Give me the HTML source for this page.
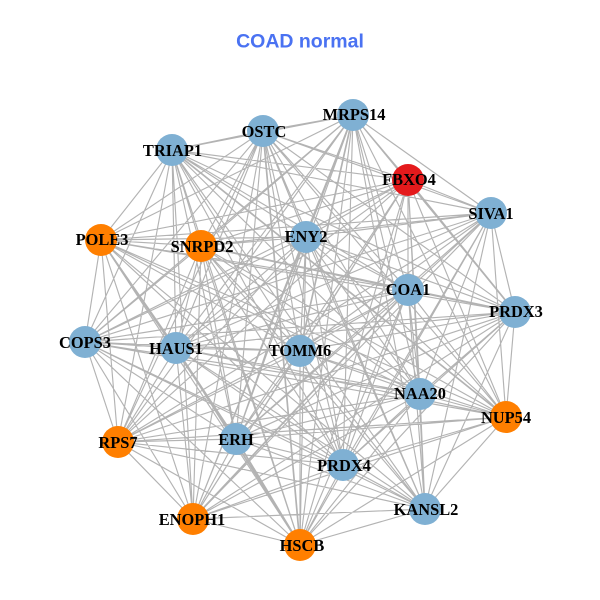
<!DOCTYPE html>
<html><head><meta charset="utf-8"><style>
html,body{margin:0;padding:0;background:#fff}
svg{display:block}
text{font-family:"Liberation Serif",serif;font-weight:bold;font-size:16.4px;text-anchor:middle;fill:#000}
</style></head><body>
<svg width="600" height="600" viewBox="0 0 600 600" xmlns="http://www.w3.org/2000/svg">
<rect width="600" height="600" fill="#fff"/>
<text x="300" y="47.5" style="font-family:'Liberation Sans',sans-serif;font-size:19.5px;fill:#4a72f2">COAD normal</text>
<path fill="none" stroke="#b3b3b3" stroke-width="1.15" d="
M353 115L263 131M353 115L172 150M353 115L408 180M353 115L491 213M353 115L101 240M353 115L201 246M353 115L408 290M353 115L515 312M353 115L85 342M353 115L176 348M353 115L420 394M353 115L506 417M353 115L118 442M353 115L236 439M353 115L343 465M353 115L425 509M353 115L193 519M353 115L300 545
M263 131L172 150M263 131L408 180M263 131L491 213M263 131L101 240M263 131L201 246M263 131L306 237M263 131L408 290M263 131L515 312M263 131L85 342M263 131L176 348M263 131L300 351M263 131L420 394M263 131L506 417M263 131L118 442M263 131L236 439M263 131L343 465M263 131L425 509M263 131L193 519
M172 150L408 180M172 150L491 213M172 150L101 240M172 150L201 246M172 150L306 237M172 150L408 290M172 150L515 312M172 150L85 342M172 150L176 348M172 150L300 351M172 150L420 394M172 150L118 442M172 150L236 439M172 150L343 465M172 150L425 509M172 150L193 519M172 150L300 545
M408 180L491 213M408 180L101 240M408 180L201 246M408 180L306 237M408 180L408 290M408 180L85 342M408 180L176 348M408 180L300 351M408 180L420 394M408 180L506 417M408 180L118 442M408 180L236 439M408 180L343 465M408 180L425 509M408 180L193 519M408 180L300 545
M491 213L101 240M491 213L201 246M491 213L306 237M491 213L408 290M491 213L515 312M491 213L85 342M491 213L176 348M491 213L300 351M491 213L420 394M491 213L506 417M491 213L118 442M491 213L236 439M491 213L343 465M491 213L425 509M491 213L193 519M491 213L300 545
M101 240L201 246M101 240L306 237M101 240L408 290M101 240L515 312M101 240L85 342M101 240L176 348M101 240L300 351M101 240L420 394M101 240L506 417M101 240L118 442M101 240L343 465M101 240L425 509M101 240L193 519M101 240L300 545
M201 246L306 237M201 246L85 342M201 246L176 348M201 246L300 351M201 246L420 394M201 246L506 417M201 246L118 442M201 246L236 439M201 246L343 465M201 246L425 509M201 246L193 519M201 246L300 545
M306 237L408 290M306 237L515 312M306 237L85 342M306 237L176 348M306 237L300 351M306 237L420 394M306 237L506 417M306 237L118 442M306 237L236 439M306 237L343 465M306 237L425 509M306 237L193 519M306 237L300 545
M408 290L85 342M408 290L176 348M408 290L300 351M408 290L420 394M408 290L506 417M408 290L118 442M408 290L236 439M408 290L343 465M408 290L425 509M408 290L300 545
M515 312L85 342M515 312L176 348M515 312L300 351M515 312L420 394M515 312L506 417M515 312L118 442M515 312L236 439M515 312L343 465M515 312L425 509M515 312L193 519M515 312L300 545
M85 342L176 348M85 342L300 351M85 342L420 394M85 342L506 417M85 342L118 442M85 342L236 439M85 342L343 465M85 342L425 509M85 342L193 519M85 342L300 545
M176 348L300 351M176 348L420 394M176 348L506 417M176 348L118 442M176 348L236 439M176 348L343 465M176 348L425 509M176 348L193 519
M300 351L420 394M300 351L506 417M300 351L118 442M300 351L236 439M300 351L343 465M300 351L425 509M300 351L193 519M300 351L300 545
M420 394L506 417M420 394L118 442M420 394L236 439M420 394L343 465M420 394L425 509M420 394L193 519M420 394L300 545
M506 417L118 442M506 417L236 439M506 417L343 465M506 417L425 509M506 417L193 519M506 417L300 545
M118 442L236 439M118 442L343 465M118 442L425 509M118 442L193 519M118 442L300 545
M236 439L343 465M236 439L425 509M236 439L193 519
M343 465L425 509M343 465L193 519M343 465L300 545
M425 509L193 519M425 509L300 545M193 519L300 545"/>
<path fill="none" stroke="#b3b3b3" stroke-width="1.7" d="
M408 180L515 312M353 115L306 237M353 115L300 351M201 246L408 290M201 246L515 312M408 290L515 312M101 240L236 439M176 348L300 545M236 439L300 545M408 290L193 519M263 131L300 545M172 150L506 417"/>
<g fill="#7fb0d3">
<circle cx="353" cy="115" r="16"/><circle cx="263" cy="131" r="16"/><circle cx="172" cy="150" r="16"/><circle cx="491" cy="213" r="16"/><circle cx="306" cy="237" r="16"/><circle cx="408" cy="290" r="16"/><circle cx="515" cy="312" r="16"/><circle cx="85" cy="342" r="16"/><circle cx="176" cy="348" r="16"/><circle cx="300" cy="351" r="16"/><circle cx="420" cy="394" r="16"/><circle cx="236" cy="439" r="16"/><circle cx="343" cy="465" r="16"/><circle cx="425" cy="509" r="16"/>
</g>
<g fill="#ff7f00">
<circle cx="101" cy="240" r="16"/><circle cx="201" cy="246" r="16"/><circle cx="506" cy="417" r="16"/><circle cx="118" cy="442" r="16"/><circle cx="193" cy="519" r="16"/><circle cx="300" cy="545" r="16"/>
</g>
<circle cx="408" cy="180" r="16" fill="#e41a1c"/>
<text x="354" y="120">MRPS14</text>
<text x="264" y="137">OSTC</text>
<text x="172.5" y="156">TRIAP1</text>
<text x="409" y="185">FBXO4</text>
<text x="491" y="219">SIVA1</text>
<text x="102" y="245">POLE3</text>
<text x="202" y="252">SNRPD2</text>
<text x="306" y="242">ENY2</text>
<text x="408" y="295">COA1</text>
<text x="516" y="317">PRDX3</text>
<text x="85" y="348">COPS3</text>
<text x="176" y="354">HAUS1</text>
<text x="300" y="356">TOMM6</text>
<text x="420" y="399">NAA20</text>
<text x="506" y="423">NUP54</text>
<text x="118" y="448">RPS7</text>
<text x="236" y="445">ERH</text>
<text x="344" y="471">PRDX4</text>
<text x="426" y="515">KANSL2</text>
<text x="192" y="525">ENOPH1</text>
<text x="302" y="551">HSCB</text>
</svg>
</body></html>
